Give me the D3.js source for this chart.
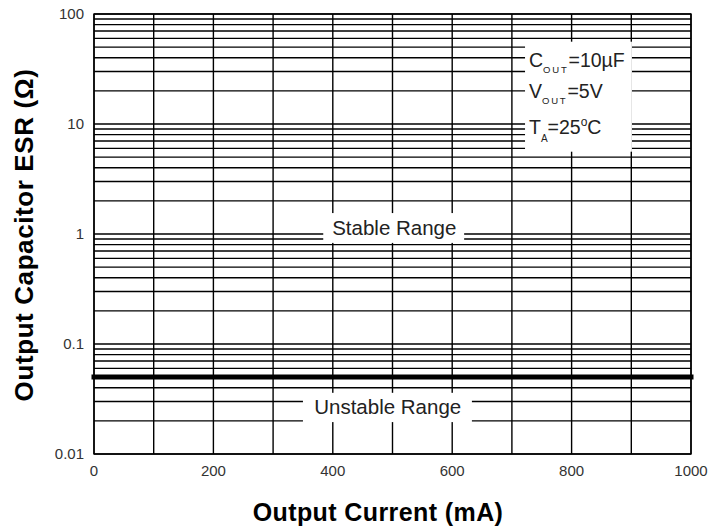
<!DOCTYPE html>
<html>
<head>
<meta charset="utf-8">
<script src="https://cdn.jsdelivr.net/npm/d3@7"></script>
<style>
  html, body { margin: 0; padding: 0; background: #fff; }
  svg text { font-family: "Liberation Sans", Arial, sans-serif; }
</style>
</head>
<body>
<svg id="chart" width="709" height="529"></svg>
<script>
// Axis ranges and tick labels
const currentDomain = [0, 1000];          // mA
const esrDomain = [0.01, 100];            // ohm
const currentGrid = [0, 100, 200, 300, 400, 500, 600, 700, 800, 900, 1000];
const currentTickLabels = [0, 200, 400, 600, 800, 1000];
const esrTickValues = [100, 10, 1, 0.1, 0.01];
const esrTickLabels = ["100", "10", "1", "0.1", "0.01"];

// Stability boundary: minimum ESR across the load current range
const boundaryCurrent = [0, 1000];
const boundaryEsr = [0.05, 0.05];

// Region labels
const regionNames = ["Stable Range", "Unstable Range"];

const svg = d3.select("#chart");
const plotLeft = 94, plotRight = 691, plotTop = 14, plotBottom = 454;

const x = d3.scaleLinear().domain(currentDomain).range([plotLeft, plotRight]);
const y = d3.scaleLog().domain(esrDomain).range([plotBottom, plotTop]);

// Log minor grid: 1..9 in every decade
const esrGrid = [];
for (let e = -2; e < 2; e++) {
  for (let m = 1; m <= 9; m++) esrGrid.push(m * Math.pow(10, e));
}
esrGrid.push(100);

const grid = svg.append("g").attr("stroke", "#000").attr("stroke-width", 1.4);

grid.selectAll("line.h").data(esrGrid).join("line")
  .attr("class", "h")
  .attr("x1", plotLeft).attr("x2", plotRight)
  .attr("y1", d => y(d)).attr("y2", d => y(d));

grid.selectAll("line.v").data(currentGrid).join("line")
  .attr("class", "v")
  .attr("y1", plotTop).attr("y2", plotBottom)
  .attr("x1", d => x(d)).attr("x2", d => x(d));

// White panels behind the annotations
const panels = svg.append("g").attr("fill", "#fff");
// legend panel
panels.append("rect")
  .attr("x", x(722)).attr("y", y(56))
  .attr("width", x(901) - x(722)).attr("height", y(5.6) - y(56));
// stable label panel
panels.append("rect")
  .attr("x", x(384)).attr("y", y(1.55))
  .attr("width", x(620) - x(384)).attr("height", y(0.83) - y(1.55));
// unstable label panel
panels.append("rect")
  .attr("x", x(350)).attr("y", y(0.036))
  .attr("width", x(633) - x(350)).attr("height", y(0.0195) - y(0.036));

// Frame
svg.append("rect")
  .attr("x", plotLeft).attr("y", plotTop)
  .attr("width", plotRight - plotLeft).attr("height", plotBottom - plotTop)
  .attr("fill", "none").attr("stroke", "#000").attr("stroke-width", 1.4);

// Boundary line (runs a hair past the right frame)
const line = d3.line().x(d => x(d[0])).y(d => y(d[1]));
svg.append("path")
  .datum(boundaryCurrent.map((c, i) => [c, boundaryEsr[i]]))
  .attr("d", line)
  .attr("fill", "none").attr("stroke", "#000").attr("stroke-width", 5)
  .attr("stroke-linecap", "square")
  .attr("stroke-dasharray", null);

// Y tick labels
svg.append("g").selectAll("text").data(esrTickValues).join("text")
  .attr("x", plotLeft - 10)
  .attr("y", d => y(d))
  .attr("dy", "0.36em")
  .attr("text-anchor", "end")
  .attr("font-size", 15)
  .attr("fill", "#333")
  .text((d, i) => esrTickLabels[i]);

// X tick labels
svg.append("g").selectAll("text").data(currentTickLabels).join("text")
  .attr("x", d => x(d))
  .attr("y", plotBottom + 22)
  .attr("text-anchor", "middle")
  .attr("font-size", 15)
  .attr("fill", "#333")
  .text(d => d);

// Axis titles
svg.append("text")
  .attr("x", 378)
  .attr("y", 521)
  .attr("text-anchor", "middle")
  .attr("font-size", 25)
  .attr("letter-spacing", 0.4)
  .attr("font-weight", "bold")
  .text("Output Current (mA)");

svg.append("text")
  .attr("transform", "translate(33,235) rotate(-90)")
  .attr("text-anchor", "middle")
  .attr("font-size", 26)
  .attr("letter-spacing", 0.6)
  .attr("font-weight", "bold")
  .text("Output Capacitor ESR (Ω)");

// Region labels
svg.append("text")
  .attr("x", x(503)).attr("y", 235)
  .attr("text-anchor", "middle")
  .attr("font-size", 20.5).attr("fill", "#222")
  .text(regionNames[0]);
svg.append("text")
  .attr("x", x(492)).attr("y", 414)
  .attr("text-anchor", "middle")
  .attr("font-size", 20.5).attr("fill", "#222")
  .text(regionNames[1]);

// Test conditions
const cond = svg.append("g").attr("font-size", 19.5).attr("fill", "#222");
const lx = 529;

const t1 = cond.append("text").attr("x", lx).attr("y", 67);
t1.append("tspan").text("C");
t1.append("tspan").attr("font-size", 9.5).attr("dy", 6).attr("letter-spacing", 1.8).text("OUT");
t1.append("tspan").attr("dy", -6).text("=10µF");

const t2 = cond.append("text").attr("x", lx).attr("y", 98);
t2.append("tspan").text("V");
t2.append("tspan").attr("font-size", 9.5).attr("dy", 6).attr("letter-spacing", 1.8).text("OUT");
t2.append("tspan").attr("dy", -6).text("=5V");

const t3 = cond.append("text").attr("x", lx).attr("y", 134);
t3.append("tspan").text("T");
t3.append("tspan").attr("font-size", 10).attr("dy", 8).text("A");
t3.append("tspan").attr("dy", -8).text("=25");
t3.append("tspan").attr("font-size", 12).attr("dy", -8).text("o");
t3.append("tspan").attr("dy", 8).text("C");
</script>
</body>
</html>
